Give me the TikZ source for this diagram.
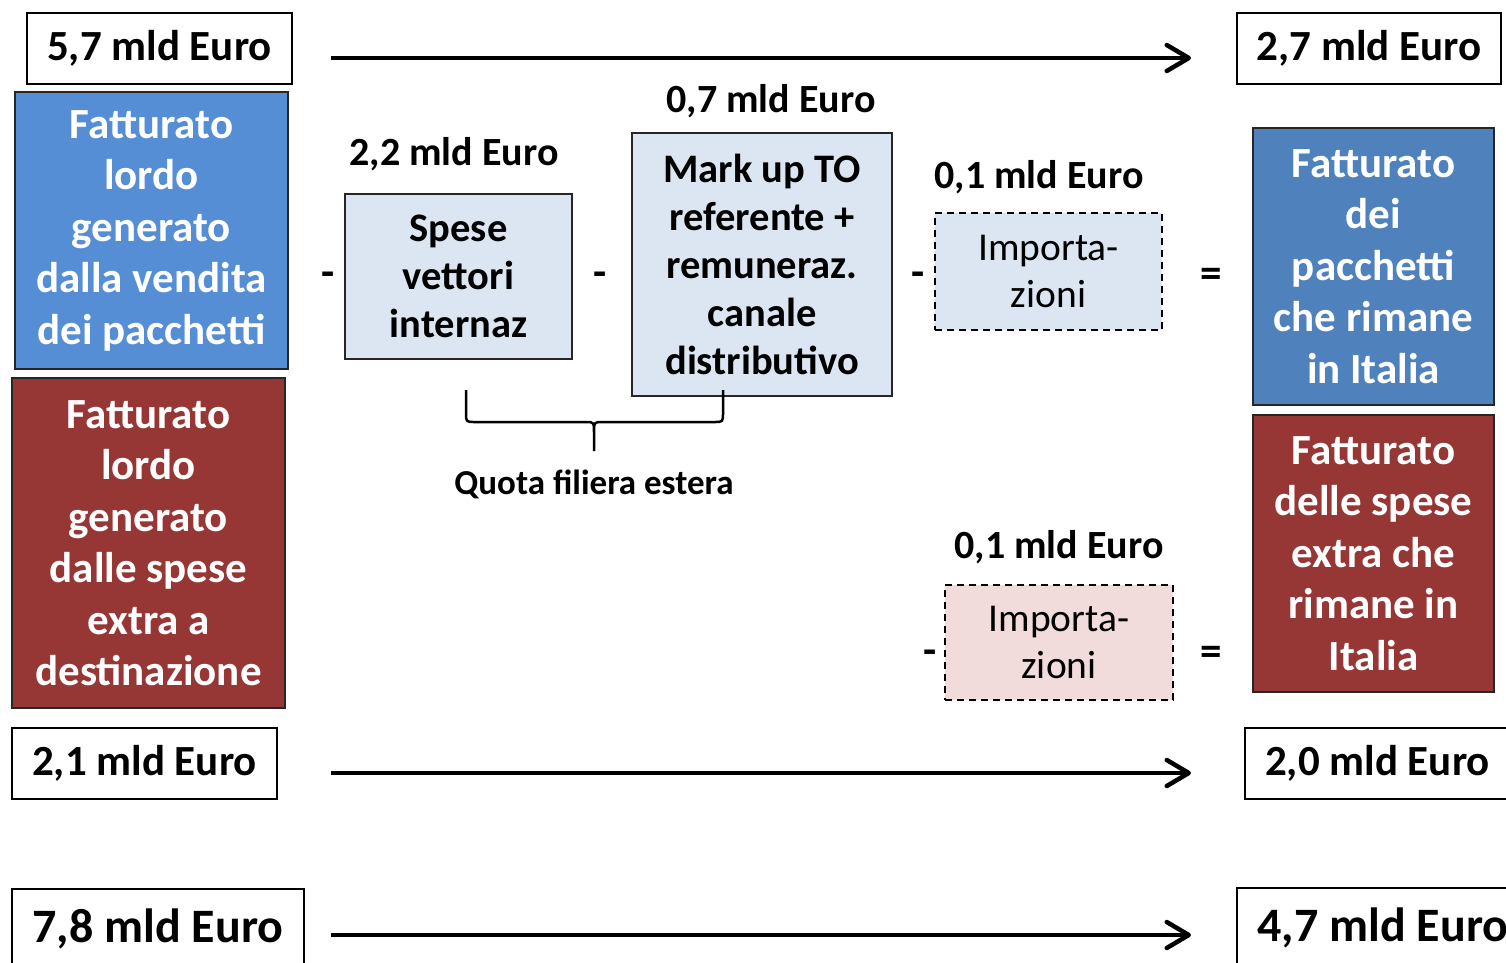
\documentclass[tikz,border=0pt]{standalone}
\usepackage{fontspec}
\setmainfont{Carlito}
\usetikzlibrary{arrows.meta}
\definecolor{lblue}{RGB}{85,142,213}
\definecolor{dblue}{RGB}{79,129,189}
\definecolor{wine}{RGB}{150,55,53}
\definecolor{pale}{RGB}{220,230,242}
\definecolor{rose}{RGB}{242,220,219}
\begin{document}
\begin{tikzpicture}[x=1pt, y=-1pt,
    every node/.style={inner sep=0pt, align=center, font=\fontsize{43}{51.5}\selectfont\bfseries},
    val/.style={draw, line width=2pt, minimum width=265pt, minimum height=71pt},
    tot/.style={draw=black!85, line width=2.5pt, text=white},
    cost/.style={draw=black!85, line width=2pt, fill=pale, font=\fontsize{40.5}{48}\selectfont\bfseries},
    imp/.style={draw, line width=2pt, dash pattern=on 7pt off 5pt, font=\fontsize{39.5}{47}\selectfont},
    lab/.style={font=\fontsize{40}{48}\selectfont\bfseries},
    flow/.style={line width=4.5pt, -{Straight Barb[length=22pt, width=26pt, line join=round, line cap=round]}}]
      \useasboundingbox (0,0) rectangle (1506,962);
      \clip (0,0) rectangle (1506,962);

      % left column
      \node (V57) at (159.5,48.5) [val] {5,7 mld Euro};
      \node (FL) at (151.5,230.5) [tot, fill=lblue, minimum width=273pt, minimum height=277pt]
        {Fatturato\\lordo\\generato\\dalla vendita\\dei pacchetti};
      \node (SL) at (148.5,543) [tot, fill=wine, minimum width=273pt, minimum height=330pt]
        {Fatturato\\lordo\\generato\\dalle spese\\extra a\\destinazione};
      \node (V21) at (144.5,763.5) [val] {2,1 mld Euro};
      \node (V78) at (158,929) [val, minimum width=292pt, minimum height=80pt,
        font=\fontsize{48}{57}\selectfont\bfseries] {7,8 mld Euro};

      % costs in the middle
      \node (L22) at (454,154) [lab] {2,2 mld Euro};
      \node (SP) at (458.5,276.5) [cost, minimum width=227pt, minimum height=165pt]
        {Spese\\vettori\\internaz};
      \node (L07) at (771,101) [lab] {0,7 mld Euro};
      \node (MU) at (762,264.5) [cost, minimum width=260pt, minimum height=263pt]
        {Mark up TO\\referente +\\remuneraz.\\canale\\distributivo};
      \node (L01a) at (1039,177) [lab] {0,1 mld Euro};
      \node (IM1) at (1048.5,271.5) [imp, fill=pale, minimum width=227pt, minimum height=117pt]
        {Importa-\\zioni};
      \node (L01b) at (1059,547) [lab] {0,1 mld Euro};
      \node (IM2) at (1059,642.5) [imp, fill=rose, minimum width=228pt, minimum height=115pt]
        {Importa-\\zioni};
      \node (QF) at (594,484) [font=\fontsize{35}{42}\selectfont\bfseries] {Quota filiera estera};

      % signs
      \node (M1) at (328.5,279) {-};
      \node (M2) at (600,279) {-};
      \node (M3) at (918,279) {-};
      \node (M4) at (930,657) {-};
      \node (E1) at (1211,278) {=};
      \node (E2) at (1211,656) {=};

      % right column
      \node (V27) at (1369,48.5) [val, minimum width=264pt] {2,7 mld Euro};
      \node (FR) at (1373.5,266.5) [tot, fill=dblue, minimum width=241pt, minimum height=277pt]
        {Fatturato\\dei\\pacchetti\\che rimane\\in Italia};
      \node (SR) at (1373.5,553.5) [tot, fill=wine, minimum width=241pt, minimum height=277pt]
        {Fatturato\\delle spese\\extra che\\rimane in\\Italia};
      \node (V20) at (1377.5,763) [val] {2,0 mld Euro};
      \node (V47) at (1383,928) [val, minimum width=292pt, minimum height=80pt,
        font=\fontsize{48}{57}\selectfont\bfseries] {4,7 mld Euro};

      % flows
      \draw[flow] ([xshift=38pt, yshift=-9.5pt]V57.east) -- ([xshift=-45pt, yshift=-9.5pt]V27.west);
      \draw[flow] ([xshift=53pt, yshift=-9.5pt]V21.east) -- ([xshift=-53pt, yshift=-10pt]V20.west);
      \draw[flow] ([xshift=26pt, yshift=-6pt]V78.east) -- ([xshift=-45pt, yshift=-7pt]V47.west);

      % brace under the foreign costs
      \draw[line width=2.5pt, line join=round]
        (466,390) -- (466,413) .. controls (466,422) .. (475,422) -- (586,422)
        .. controls (594,422) .. (594,434) -- (594,451)
        (594,434) .. controls (594,422) .. (602,422) -- (714,422)
        .. controls (723,422) .. (723,413) -- (723,390);
    \end{tikzpicture}
\end{document}
